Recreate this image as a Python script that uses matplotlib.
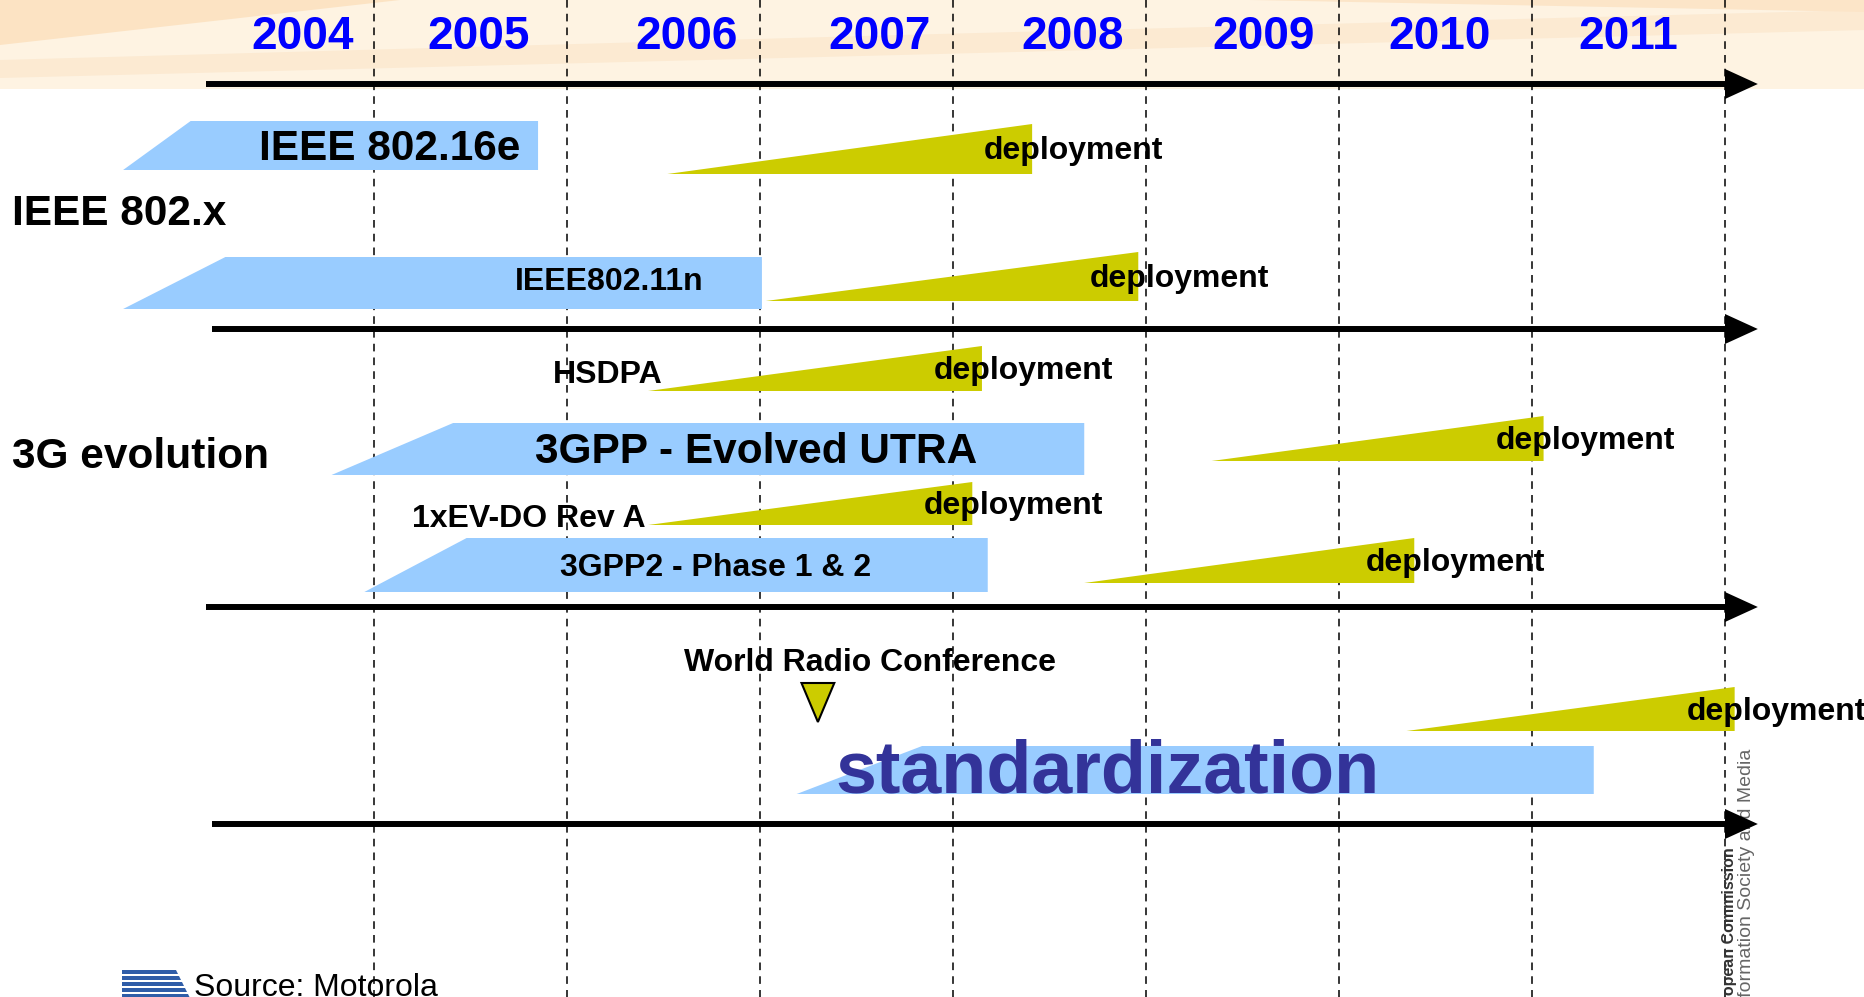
import numpy as np
import matplotlib.pyplot as plt
from matplotlib.patches import Polygon

plt.rcParams['font.family'] = ['Liberation Sans', 'DejaVu Sans']

# timeline
years = [2004, 2005, 2006, 2007, 2008, 2009, 2010, 2011]
dividers = [2005, 2006, 2007, 2008, 2009, 2010, 2011, 2012]

# blue standardization bars (start of ramp, full height from, end)
bar_labels = ['IEEE 802.16e', 'IEEE802.11n', '3GPP - Evolved UTRA',
              '3GPP2 - Phase 1 & 2', 'standardization']
bar_start = [2003.70, 2003.70, 2004.78, 2004.95, 2007.19]
bar_ramp = [2004.05, 2004.23, 2005.41, 2005.48, 2007.84]
bar_end = [2005.85, 2007.01, 2008.68, 2008.18, 2011.32]

# yellow deployment wedges
dep_start = [2006.52, 2007.03, 2006.42, 2009.34, 2006.42, 2008.68, 2010.35]
dep_end = [2008.41, 2008.96, 2008.15, 2011.06, 2008.10, 2010.39, 2012.05]

# World Radio Conference marker
wrc_year = 2007.30

# ---- layout (rows in pixels from top) ----
W, H = 1865, 997
X0 = 2005 - 374 / 193
X1 = X0 + W / 193


def px(p):
    return X0 + p / 193


year_label_x = [2004.63, 2005.54, 2006.62, 2007.62, 2008.62, 2009.61, 2010.52, 2011.50]

bar_top = [121, 257, 423, 538, 746]
bar_bot = [170, 309, 475, 592, 794]
bar_text_x = [2005.08, 2006.22, 2006.98, 2006.77, 2008.80]
bar_text_y = [144, 278, 447, 564, 765]
bar_text_size = [30.5, 23, 30.5, 23, 53]
bar_text_color = ['black', 'black', 'black', 'black', '#333399']

dep_top = [124, 252, 346, 416, 482, 538, 687]
dep_bot = [174, 301, 391, 461, 525, 583, 731]

arrow_y = [84, 329, 607, 824]
arrow_x0 = [2004.13, 2004.16, 2004.13, 2004.16]

fig = plt.figure(figsize=(W / 100, H / 100), dpi=100)
ax = fig.add_axes([0, 0, 1, 1])
ax.set_xlim(X0, X1)
ax.set_ylim(H, 0)
ax.axis('off')

# banner background
ax.add_patch(Polygon([(px(0), 0), (px(W), 0), (px(W), 89), (px(0), 89)],
                     closed=True, fc='#FEF3E2', ec='none', zorder=0))
ax.add_patch(Polygon([(px(0), 0), (px(400), 0), (px(0), 45)],
                     closed=True, fc='#FCE3C3', ec='none', zorder=0))
ax.add_patch(Polygon([(px(0), 60), (px(900), 35), (px(W), 10), (px(W), 30),
                      (px(900), 55), (px(0), 78)],
                     closed=True, fc='#FCEAD2', ec='none', zorder=0))
ax.add_patch(Polygon([(px(1250), 0), (px(W), 0), (px(W), 12)],
                     closed=True, fc='#FCE5C8', ec='none', zorder=0))

# dashed year dividers
ax.vlines(dividers, 0, H, colors='black', linestyles=(0, (5, 4)), lw=1.1, zorder=1)

# year labels
for y, xl in zip(years, year_label_x):
    ax.text(xl, 32, str(y), ha='center', va='center_baseline',
            fontsize=33, fontweight='bold', color='#0000FF', zorder=3)

# standardization bars
for i in range(len(bar_labels)):
    ax.add_patch(Polygon([(bar_start[i], bar_bot[i]), (bar_ramp[i], bar_top[i]),
                          (bar_end[i], bar_top[i]), (bar_end[i], bar_bot[i])],
                         closed=True, fc='#99CCFF', ec='none', zorder=2))
    ax.text(bar_text_x[i], bar_text_y[i], bar_labels[i], ha='center',
            va='center_baseline', fontsize=bar_text_size[i], fontweight='bold',
            color=bar_text_color[i], zorder=3)

# deployment wedges
for i in range(len(dep_start)):
    ax.add_patch(Polygon([(dep_start[i], dep_bot[i]), (dep_end[i], dep_top[i]),
                          (dep_end[i], dep_bot[i])],
                         closed=True, fc='#CCCC00', ec='none', zorder=2))
    ax.text(dep_end[i] - 0.25, (dep_top[i] + dep_bot[i]) / 2 - 1, 'deployment',
            ha='left', va='center_baseline', fontsize=23, fontweight='bold',
            color='black', zorder=3)

# arrows
for y0, x0 in zip(arrow_y, arrow_x0):
    ax.plot([x0, 2012.0], [y0, y0], color='black', lw=4.3,
            solid_capstyle='butt', zorder=4)
    ax.add_patch(Polygon([(2012.0, y0 - 15), (2012.17, y0), (2012.0, y0 + 15)],
                         closed=True, fc='black', ec='none', zorder=4))

# row labels
ax.text(px(12), 209, 'IEEE 802.x', ha='left', va='center_baseline',
        fontsize=30.5, fontweight='bold', zorder=3)
ax.text(px(12), 452, '3G evolution', ha='left', va='center_baseline',
        fontsize=30.5, fontweight='bold', zorder=3)
ax.text(2006.21, 371, 'HSDPA', ha='center', va='center_baseline',
        fontsize=23, fontweight='bold', zorder=3)
ax.text(2005.80, 515, '1xEV-DO Rev A', ha='center', va='center_baseline',
        fontsize=23, fontweight='bold', zorder=3)
ax.text(2007.57, 659, 'World Radio Conference', ha='center', va='center_baseline',
        fontsize=23, fontweight='bold', zorder=3)

# WRC marker
ax.add_patch(Polygon([(wrc_year - 0.085, 683), (wrc_year + 0.085, 683), (wrc_year, 722)],
                     closed=True, fc='#CCCC00', ec='black', lw=1.5, zorder=3))

# source + logo
for k in range(5):
    yy = 970 + k * 6
    ax.add_patch(Polygon([(px(122), yy), (px(176 + k * 3), yy),
                          (px(178 + k * 3), yy + 4), (px(122), yy + 4)],
                         closed=True, fc='#2F5DA8', ec='none', zorder=3))
ax.text(px(194), 973, 'Source: Motorola', ha='left', va='top',
        fontsize=23, color='black', zorder=3)

# EC watermark
ax.text(px(1729), 847, 'European Commission', rotation=90, rotation_mode='anchor',
        ha='right', va='center', fontsize=11.5, fontweight='bold',
        color='#333333', zorder=3)
ax.text(px(1746), 749, 'Information Society and Media', rotation=90,
        rotation_mode='anchor', ha='right', va='center', fontsize=14,
        color='#666666', zorder=3)

fig.savefig('out.png', dpi=100)
